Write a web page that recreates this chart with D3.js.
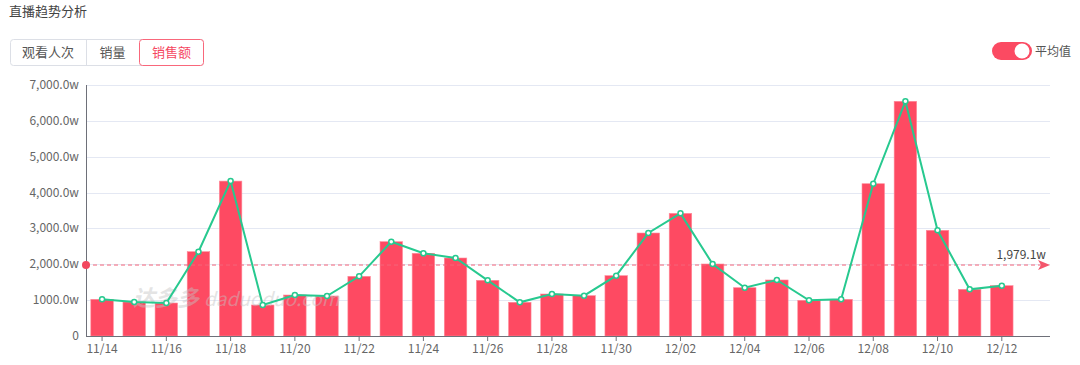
<!DOCTYPE html>
<html>
<head>
<meta charset="utf-8">
<script src="https://cdn.jsdelivr.net/npm/d3@7"></script>
<style>
  html, body { margin: 0; padding: 0; background: #fff; }
  svg { display: block; font-family: "Noto Sans CJK SC", "Noto Sans", sans-serif; }
</style>
</head>
<body>
<div id="chart"></div>
<script>
// Data
const dates = ['11/14','11/15','11/16','11/17','11/18','11/19','11/20','11/21','11/22','11/23',
  '11/24','11/25','11/26','11/27','11/28','11/29','11/30','12/01','12/02','12/03',
  '12/04','12/05','12/06','12/07','12/08','12/09','12/10','12/11','12/12','12/13'];
const sales = [1023, 948, 920, 2351, 4320, 864, 1143, 1115, 1664, 2630,
  2306, 2175, 1553, 940, 1171, 1124, 1682, 2872, 3420, 2008,
  1347, 1562, 995, 1023, 4247, 6545, 2947, 1302, 1403, null];
const avgValue = 1979.1;
const avgLabel = '1,979.1w';
const yTicks = [0, 1000, 2000, 3000, 4000, 5000, 6000, 7000];
const yTickLabels = ['0', '1000.0w', '2,000.0w', '3,000.0w', '4,000.0w', '5,000.0w', '6,000.0w', '7,000.0w'];
const xTickLabels = ['11/14','11/16','11/18','11/20','11/22','11/24','11/26','11/28','11/30',
  '12/02','12/04','12/06','12/08','12/10','12/12'];
const tabs = ['观看人次', '销量', '销售额'];

const width = 1080;
const height = 365;
const plotLeft = 86, plotRight = 1050, plotTop = 85, plotBottom = 336;

const svg = d3.select('#chart')
  .append('svg')
  .attr('width', width)
  .attr('height', height);

// Title
svg.append('text')
  .attr('x', 9).attr('y', 16)
  .attr('font-size', 13).attr('fill', '#444')
  .text('直播趋势分析');

// Tabs
const tabX = [10, 86, 139, 204];
const tabG = svg.append('g');
tabG.append('rect')
  .attr('x', 10.5).attr('y', 39.5).attr('width', 193).attr('height', 26)
  .attr('rx', 3).attr('fill', '#fff').attr('stroke', '#dcdfe6');
tabG.append('line')
  .attr('x1', 86.5).attr('x2', 86.5).attr('y1', 40).attr('y2', 65)
  .attr('stroke', '#dcdfe6');
tabG.append('rect')
  .attr('x', 139.5).attr('y', 39.5).attr('width', 64).attr('height', 26)
  .attr('rx', 3).attr('fill', '#fff').attr('stroke', '#f9677b');
tabG.selectAll('text.tab')
  .data(tabs)
  .enter()
  .append('text')
  .attr('class', 'tab')
  .attr('x', (d, i) => (tabX[i] + tabX[i + 1]) / 2)
  .attr('y', 57)
  .attr('text-anchor', 'middle')
  .attr('font-size', 13)
  .attr('fill', (d, i) => i === 2 ? '#f5475f' : '#555')
  .text(d => d);

// Average toggle
svg.append('rect')
  .attr('x', 992).attr('y', 42).attr('width', 40).attr('height', 18)
  .attr('rx', 9).attr('fill', '#fb4a62');
svg.append('circle')
  .attr('cx', 1022).attr('cy', 51).attr('r', 7.5).attr('fill', '#fff');
svg.append('text')
  .attr('x', 1035).attr('y', 55.5)
  .attr('font-size', 12).attr('fill', '#555')
  .text('平均值');

// Scales
const x = d3.scaleBand()
  .domain(dates)
  .range([plotLeft, plotRight])
  .paddingInner(0.3)
  .paddingOuter(0.15);

const y = d3.scaleLinear()
  .domain([0, 7000])
  .range([plotBottom, plotTop]);

// Gridlines
svg.append('g')
  .selectAll('line')
  .data(yTicks.slice(1))
  .enter()
  .append('line')
  .attr('x1', plotLeft).attr('x2', plotRight)
  .attr('y1', d => Math.round(y(d)) + 0.5)
  .attr('y2', d => Math.round(y(d)) + 0.5)
  .attr('stroke', '#e4e8f3');

// Y axis labels
svg.append('g')
  .selectAll('text')
  .data(yTicks)
  .enter()
  .append('text')
  .attr('x', plotLeft - 7)
  .attr('y', d => y(d) + 4)
  .attr('text-anchor', 'end')
  .attr('font-size', 12)
  .attr('fill', '#666')
  .text((d, i) => yTickLabels[i]);

// Bars
svg.append('g')
  .selectAll('rect')
  .data(dates.map((d, i) => ({ date: d, value: sales[i] })).filter(d => d.value != null))
  .enter()
  .append('rect')
  .attr('x', d => x(d.date))
  .attr('y', d => y(d.value))
  .attr('width', x.bandwidth())
  .attr('height', d => y(0) - y(d.value))
  .attr('fill', '#fe4a62')
  .attr('stroke', '#ff8a9a')
  .attr('stroke-width', 0.6);

// Watermark (over the bars)
const wm = svg.append('g').attr('opacity', 0.45);
wm.append('text')
  .attr('x', 133).attr('y', 306)
  .attr('font-size', 22).attr('font-weight', 'bold').attr('font-style', 'italic')
  .attr('fill', '#c4c4c4')
  .text('达多多');
wm.append('text')
  .attr('x', 204).attr('y', 306)
  .attr('font-size', 19).attr('font-style', 'italic')
  .attr('fill', '#c4c4c4')
  .text('daduoduo.com');

// Axes lines
svg.append('line')
  .attr('x1', plotLeft + 0.5).attr('x2', plotLeft + 0.5)
  .attr('y1', plotTop).attr('y2', plotBottom)
  .attr('stroke', '#6e7079');
svg.append('line')
  .attr('x1', plotLeft).attr('x2', plotRight)
  .attr('y1', plotBottom + 0.5).attr('y2', plotBottom + 0.5)
  .attr('stroke', '#6e7079');

// X axis ticks and labels
const xt = svg.append('g')
  .selectAll('g')
  .data(xTickLabels)
  .enter()
  .append('g')
  .attr('transform', d => `translate(${x(d) + x.bandwidth() / 2},${plotBottom})`);
xt.append('line')
  .attr('y1', 0).attr('y2', 5)
  .attr('stroke', '#6e7079');
xt.append('text')
  .attr('y', 17)
  .attr('text-anchor', 'middle')
  .attr('font-size', 12)
  .attr('fill', '#666')
  .text(d => d);

// Average line
const avgY = y(avgValue);
svg.append('line')
  .attr('x1', plotLeft).attr('x2', plotRight - 6)
  .attr('y1', avgY).attr('y2', avgY)
  .attr('stroke', '#f4667a')
  .attr('stroke-width', 1)
  .attr('stroke-dasharray', '4,3');
svg.append('circle')
  .attr('cx', plotLeft).attr('cy', avgY).attr('r', 4)
  .attr('fill', '#f2485f');
svg.append('path')
  .attr('d', `M${plotRight - 12},${avgY - 5} L${plotRight},${avgY} L${plotRight - 12},${avgY + 5} L${plotRight - 9},${avgY} Z`)
  .attr('fill', '#f4566c');
svg.append('text')
  .attr('x', plotRight - 4).attr('y', avgY - 6)
  .attr('text-anchor', 'end')
  .attr('font-size', 12)
  .attr('fill', '#444')
  .text(avgLabel);

// Line series
const points = dates.map((d, i) => ({ date: d, value: sales[i] })).filter(d => d.value != null);
const line = d3.line()
  .x(d => x(d.date) + x.bandwidth() / 2)
  .y(d => y(d.value));

svg.append('path')
  .datum(points)
  .attr('d', line)
  .attr('fill', 'none')
  .attr('stroke', '#27c98f')
  .attr('stroke-width', 2);

svg.append('g')
  .selectAll('circle')
  .data(points)
  .enter()
  .append('circle')
  .attr('cx', d => x(d.date) + x.bandwidth() / 2)
  .attr('cy', d => y(d.value))
  .attr('r', 2.5)
  .attr('fill', '#fff')
  .attr('stroke', '#27c98f')
  .attr('stroke-width', 1.5);
</script>
</body>
</html>
